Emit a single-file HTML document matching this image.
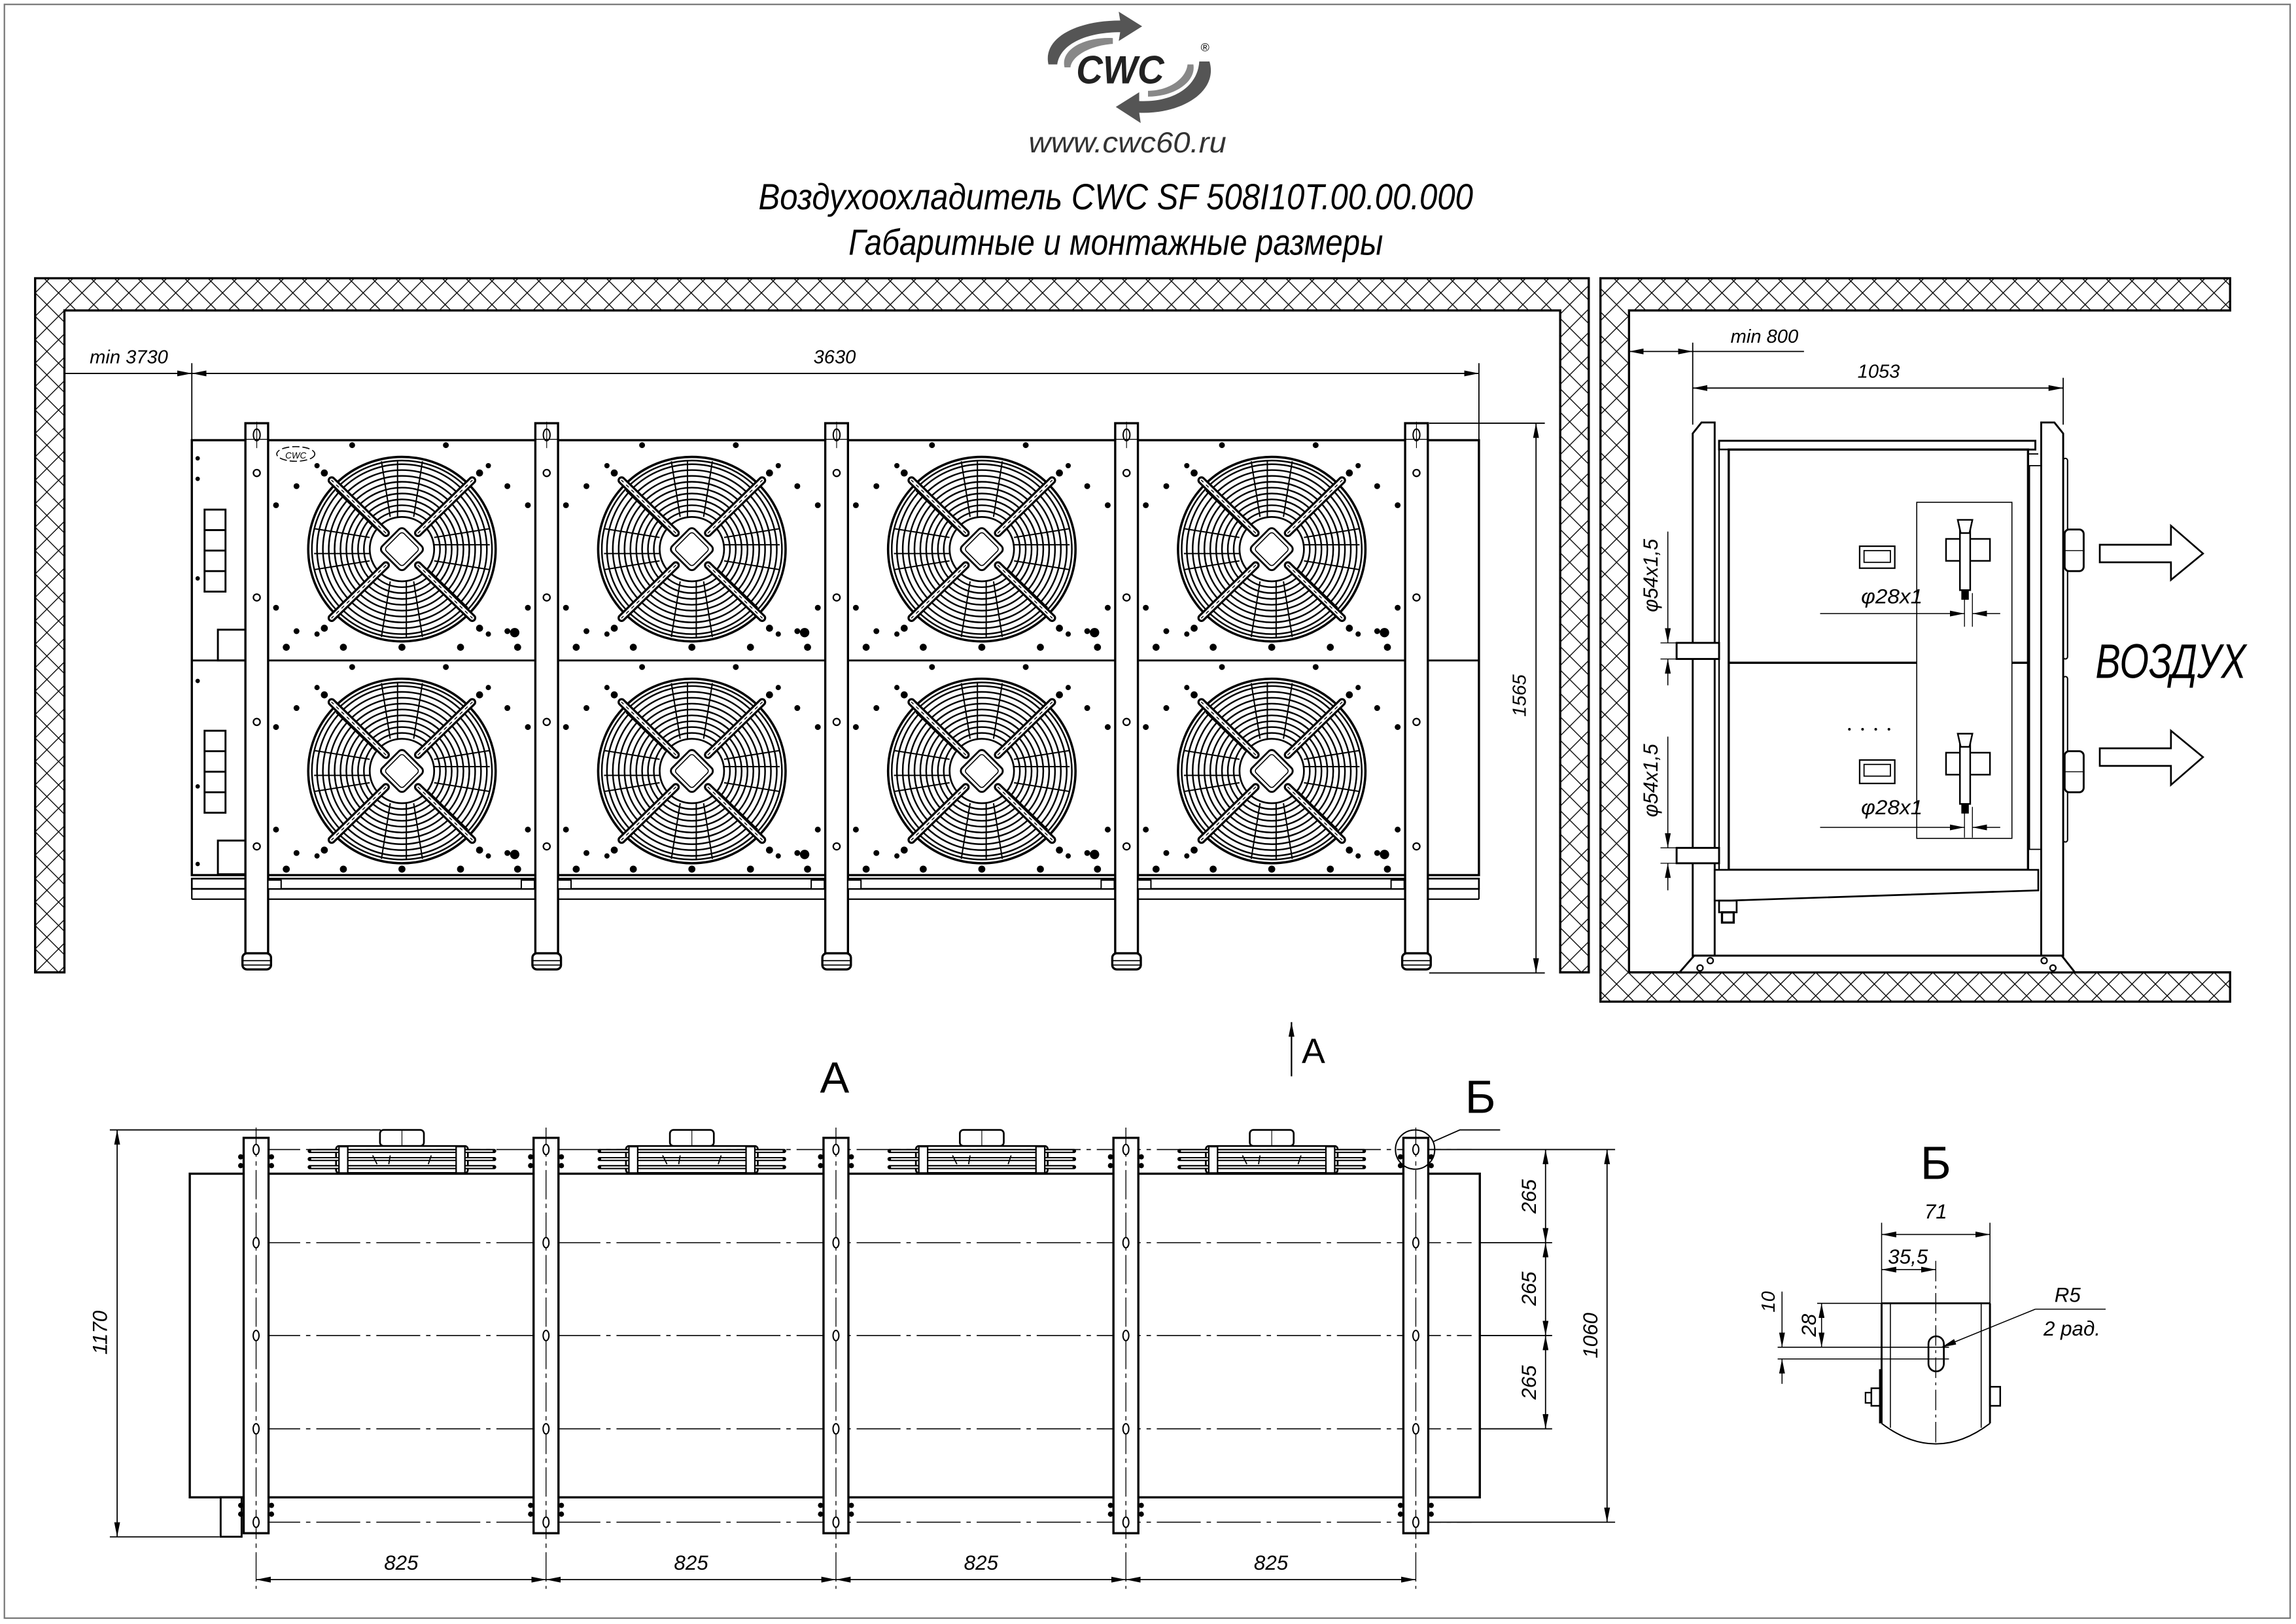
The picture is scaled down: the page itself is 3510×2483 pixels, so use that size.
<!DOCTYPE html>
<html><head><meta charset="utf-8">
<style>
html,body{margin:0;padding:0;background:#fff;}
svg{display:block;}
text{font-family:"Liberation Sans","DejaVu Sans",sans-serif;font-style:italic;fill:#000;}
.up{font-style:normal;}
</style></head>
<body>
<svg width="3510" height="2483" viewBox="0 0 1568 1109" preserveAspectRatio="none" xmlns="http://www.w3.org/2000/svg">
<defs>
  <pattern id="hatch" patternUnits="userSpaceOnUse" width="16" height="16">
    <path d="M0,0 L16,16 M16,0 L0,16 M-1,15 L1,17 M15,-1 L17,1" stroke="#000" stroke-width="0.6" fill="none"/>
  </pattern>
  <marker id="ar" viewBox="0 0 10 4" refX="10" refY="2" markerWidth="10" markerHeight="4" markerUnits="userSpaceOnUse" orient="auto-start-reverse">
    <path d="M0,0 L10,2 L0,4 z" fill="#000"/>
  </marker>
  <g id="fan">
    <g fill="none" stroke="#000">
      <ellipse rx="64" ry="63" stroke-width="1.6"/>
      <ellipse rx="61.5" ry="60.5" stroke-width="1.1"/>
      <circle r="58" stroke-width="1.1"/>
      <circle r="54" stroke-width="1.1"/>
      <circle r="50" stroke-width="1.1"/>
      <circle r="46" stroke-width="1.1"/>
      <circle r="42" stroke-width="1.1"/>
      <circle r="38" stroke-width="1.1"/>
      <circle r="34" stroke-width="1.1"/>
      <circle r="30" stroke-width="1.1"/>
      <circle r="26" stroke-width="1.1"/>
      <circle r="22" stroke-width="1.2"/>
      <g stroke-width="0.9">
        <path d="M-8,-22 L-14,-60 M8,-22 L14,-60 M-22,8 L-60,14 M-22,-8 L-60,-14 M22,8 L60,14 M22,-8 L60,-14 M-8,22 L-14,60 M8,22 L14,60"/>
        <path d="M-3,-22 L-3,-60 M3,22 L3,60 M-22,3 L-60,3 M22,-3 L60,-3 M-18,-14 L-45,-40 M18,14 L45,40"/>
      </g>
    </g>
    <g stroke-linecap="round">
      <path d="M-11,-11 L-48,-47 M11,-11 L48,-47 M-11,11 L-48,47 M11,11 L48,47" stroke="#000" stroke-width="5.5"/>
      <path d="M-11,-11 L-48,-47 M11,-11 L48,-47 M-11,11 L-48,47 M11,11 L48,47" stroke="#fff" stroke-width="2.6"/>
      <path d="M-11,-11 L-48,-47 M11,-11 L48,-47 M-11,11 L-48,47 M11,11 L48,47" stroke="#000" stroke-width="0.6" stroke-dasharray="2 3"/>
    </g>
    <rect x="-11" y="-11" width="22" height="22" rx="3" transform="rotate(45)" fill="#fff" stroke="#000" stroke-width="1.3"/>
    <rect x="-8.5" y="-8.5" width="17" height="17" rx="2" transform="rotate(45)" fill="none" stroke="#000" stroke-width="0.7"/>
    <g fill="#000">
      <circle cx="-34" cy="-71" r="2"/><circle cx="30" cy="-71" r="2"/>
      <circle cx="-72" cy="-43" r="2"/><circle cx="72" cy="-43" r="2"/>
      <circle cx="-86" cy="-30" r="2"/><circle cx="86" cy="-30" r="2"/>
      <circle cx="-86" cy="40" r="2"/><circle cx="86" cy="40" r="2"/>
      <circle cx="-72" cy="56" r="2"/><circle cx="72" cy="56" r="2"/>
      <circle cx="-79" cy="67" r="2.4"/><circle cx="-40" cy="67" r="2.4"/><circle cx="0" cy="67" r="2.4"/><circle cx="40" cy="67" r="2.4"/><circle cx="79" cy="67" r="2.4"/>
      <circle cx="-53" cy="-52" r="2.4"/><circle cx="53" cy="-52" r="2.4"/>
      <circle cx="-58" cy="-57" r="1.8"/><circle cx="59" cy="-57" r="1.8"/>
      <circle cx="-53" cy="54" r="2.4"/><circle cx="53" cy="54" r="2.4"/>
      <circle cx="-58" cy="58" r="1.8"/><circle cx="59" cy="58" r="1.8"/>
      <circle cx="77" cy="57" r="3.2"/>
    </g>
  </g>
  <g id="post">
    <rect x="0" y="289" width="15.5" height="362" fill="#fff" stroke="#000" stroke-width="1.5"/>
    <line x1="0" y1="300" x2="15.5" y2="300" stroke="#000" stroke-width="0.6"/>
    <ellipse cx="7.75" cy="297" rx="2.3" ry="4" fill="none" stroke="#000" stroke-width="0.9"/>
    <line x1="7.75" y1="288" x2="7.75" y2="306" stroke="#000" stroke-width="0.5"/>
    <g fill="#fff" stroke="#000" stroke-width="1"><circle cx="7.75" cy="323" r="2.3"/><circle cx="7.75" cy="408" r="2.3"/><circle cx="7.75" cy="493" r="2.3"/><circle cx="7.75" cy="578" r="2.3"/></g>
    <rect x="-2" y="651" width="19.5" height="11" rx="3" fill="#fff" stroke="#000" stroke-width="1.5"/>
    <line x1="-2" y1="656" x2="17.5" y2="656" stroke="#000" stroke-width="0.8"/>
    <line x1="-2" y1="659" x2="17.5" y2="659" stroke="#000" stroke-width="0.8"/>
  </g>
  <g id="tpost">
    <rect x="0" y="777" width="17" height="270" fill="#fff" stroke="#000" stroke-width="1.5"/>
    <line x1="8.5" y1="770" x2="8.5" y2="1085" stroke="#000" stroke-width="0.6" stroke-dasharray="20 3 3 3"/>
    <g fill="#fff" stroke="#000" stroke-width="0.9">
      <ellipse cx="8.5" cy="785" rx="2" ry="3.5"/><ellipse cx="8.5" cy="848.6" rx="2" ry="3.5"/><ellipse cx="8.5" cy="912" rx="2" ry="3.5"/><ellipse cx="8.5" cy="975.7" rx="2" ry="3.5"/><ellipse cx="8.5" cy="1039.5" rx="2" ry="3.5"/>
    </g>
    <g fill="#000"><circle cx="-2" cy="790" r="1.8"/><circle cx="-2" cy="796" r="1.8"/><circle cx="19" cy="790" r="1.8"/><circle cx="19" cy="796" r="1.8"/><circle cx="-2" cy="1028" r="1.8"/><circle cx="-2" cy="1034" r="1.8"/><circle cx="19" cy="1028" r="1.8"/><circle cx="19" cy="1034" r="1.8"/></g>
  </g>
  <g id="tfan">
    <rect x="-15" y="771.6" width="30" height="11" rx="2.5" fill="#fff" stroke="#000" stroke-width="1.2"/>
    <line x1="0" y1="771.6" x2="0" y2="782.6" stroke="#000" stroke-width="0.5"/>
    <g fill="none" stroke="#000">
      <rect x="-45" y="782.6" width="90" height="18.4" rx="2" stroke-width="1.2"/>
      <line x1="-63" y1="786" x2="63" y2="786" stroke-width="2.8" stroke-linecap="round"/>
      <line x1="-63" y1="791.5" x2="63" y2="791.5" stroke-width="2.8" stroke-linecap="round"/>
      <line x1="-63" y1="797" x2="63" y2="797" stroke-width="2.8" stroke-linecap="round"/>
    </g>
    <g fill="none" stroke="#fff"><line x1="-62" y1="786" x2="62" y2="786" stroke-width="1"/><line x1="-62" y1="791.5" x2="62" y2="791.5" stroke-width="1"/><line x1="-62" y1="797" x2="62" y2="797" stroke-width="1"/></g>
    <rect x="-43" y="783" width="6" height="18" fill="#fff" stroke="#000" stroke-width="1"/>
    <rect x="37" y="783" width="6" height="18" fill="#fff" stroke="#000" stroke-width="1"/>
    <path d="M-20,789 l3,6 M-8,789 l-1,6 M20,789 l-2,6" stroke="#000" stroke-width="0.8"/>
  </g>
</defs>

<rect width="1568" height="1109" fill="#fff"/>
<rect x="3" y="3" width="1561" height="1102" fill="none" stroke="#777" stroke-width="1"/>

<!-- Logo -->
<g fill="#555">
  <path d="M716,44 C712,26 735,14 765,14 L764,8 L780,18 L764,28 L765,22 C742,22 724,30 722,44 Z"/>
  <path d="M727,46 C724,33 742,25 760,26 L760,30 C745,31 732,38 731,46 Z" fill="#888"/>
  <path d="M826,42 C832,62 808,78 778,77 L779,84 L762,73 L778,63 L778,69 C800,70 818,60 819,42 Z"/>
  <path d="M815,44 C817,56 802,66 784,66 L784,62 C798,62 810,54 811,44 Z" fill="#888"/>
</g>
<text x="765" y="57" font-size="27" font-weight="bold" text-anchor="middle" fill="#222" style="fill:#222" textLength="60" lengthAdjust="spacingAndGlyphs">CWC</text>
<text x="820" y="35" font-size="8" class="up">®</text>
<text x="770" y="104" font-size="20" text-anchor="middle" fill="#333" style="fill:#333" textLength="135" lengthAdjust="spacingAndGlyphs">www.cwc60.ru</text>
<text x="762" y="143" font-size="25" text-anchor="middle" textLength="488" lengthAdjust="spacingAndGlyphs">Воздухоохладитель CWC SF 508I10T.00.00.000</text>
<text x="762" y="174" font-size="25" text-anchor="middle" textLength="365" lengthAdjust="spacingAndGlyphs">Габаритные и монтажные размеры</text>

<!-- Walls -->
<path d="M24,190 H1085 V664 H1065.5 V212 H44 V664 H24 Z" fill="url(#hatch)" stroke="#000" stroke-width="1.5"/>
<path d="M1093,190 H1523 V212 H1112.5 V664 H1523 V684 H1093 Z" fill="url(#hatch)" stroke="#000" stroke-width="1.5"/>

<!-- FRONT VIEW -->
<g stroke="#000" fill="none">
  <rect x="131" y="300.6" width="879" height="297" stroke-width="1.5" fill="#fff"/>
  <line x1="131" y1="451" x2="1010" y2="451" stroke-width="1.3"/>
  <rect x="131" y="600" width="879" height="7" stroke-width="1.2"/>
  <line x1="131" y1="614" x2="1010" y2="614" stroke-width="1"/>
  <line x1="131" y1="607" x2="131" y2="614" stroke-width="1"/>
  <line x1="1010" y1="607" x2="1010" y2="614" stroke-width="1"/>
  <g stroke-width="1.3">
    <rect x="139.7" y="348" width="14.3" height="56"/>
    <line x1="139.7" y1="362" x2="154" y2="362"/><line x1="139.7" y1="376" x2="154" y2="376"/><line x1="139.7" y1="390" x2="154" y2="390"/>
    <rect x="139.7" y="499" width="14.3" height="56"/>
    <line x1="139.7" y1="513" x2="154" y2="513"/><line x1="139.7" y1="527" x2="154" y2="527"/><line x1="139.7" y1="541" x2="154" y2="541"/>
    <rect x="148.8" y="430" width="18.8" height="21"/>
    <rect x="148.8" y="574" width="18.8" height="23"/>
  </g>
  <ellipse cx="202" cy="310" rx="13" ry="5" stroke-width="0.7" stroke-dasharray="5 2"/>
</g>
<text x="202" y="313" font-size="6" text-anchor="middle">CWC</text>
<g fill="#000"><circle cx="135" cy="313" r="1.5"/><circle cx="135" cy="327" r="1.5"/><circle cx="135" cy="395" r="1.5"/><circle cx="135" cy="465" r="1.5"/><circle cx="135" cy="537" r="1.5"/><circle cx="135" cy="590" r="1.5"/></g>

<use href="#fan" x="274.5" y="375"/>
<use href="#fan" x="472.5" y="375"/>
<use href="#fan" x="670.5" y="375"/>
<use href="#fan" x="868.5" y="375"/>
<use href="#fan" x="274.5" y="526.5"/>
<use href="#fan" x="472.5" y="526.5"/>
<use href="#fan" x="670.5" y="526.5"/>
<use href="#fan" x="868.5" y="526.5"/>

<use href="#post" x="167.6"/>
<use href="#post" x="365.6"/>
<use href="#post" x="563.6"/>
<use href="#post" x="761.6"/>
<use href="#post" x="959.6"/>
<g fill="#fff" stroke="#000" stroke-width="0.9">
  <rect x="183" y="601" width="9" height="6"/><rect x="356" y="601" width="9" height="6"/>
  <rect x="381" y="601" width="9" height="6"/><rect x="554" y="601" width="9" height="6"/>
  <rect x="579" y="601" width="9" height="6"/><rect x="752" y="601" width="9" height="6"/>
  <rect x="777" y="601" width="9" height="6"/><rect x="950" y="601" width="9" height="6"/>
</g>

<g stroke="#000" stroke-width="0.8" fill="none">
  <line x1="44" y1="255" x2="131" y2="255" marker-end="url(#ar)"/>
  <line x1="131" y1="255" x2="1010" y2="255" marker-start="url(#ar)" marker-end="url(#ar)"/>
  <line x1="131" y1="248" x2="131" y2="300"/>
  <line x1="1010" y1="248" x2="1010" y2="300"/>
  <line x1="976" y1="289" x2="1055" y2="289"/>
  <line x1="976" y1="664.4" x2="1055" y2="664.4"/>
  <line x1="1049" y1="289" x2="1049" y2="664.4" marker-start="url(#ar)" marker-end="url(#ar)"/>
</g>
<text x="88" y="248" font-size="13" text-anchor="middle">min 3730</text>
<text x="570" y="248" font-size="13" text-anchor="middle">3630</text>
<text transform="translate(1042,475) rotate(-90)" font-size="13" text-anchor="middle">1565</text>

<!-- SIDE VIEW -->
<g stroke="#000" fill="none">
  <path d="M1156,296 L1162,288.5 H1171 V652.6 H1156 Z" stroke-width="1.3" fill="#fff"/>
  <path d="M1394,288.5 H1403 L1409,296 V652.6 H1394 Z" stroke-width="1.3" fill="#fff"/>
  <path d="M1147,664 L1157,652.6 H1408 L1417,664 Z" stroke-width="1.3" fill="#fff"/>
  <circle cx="1168" cy="656" r="2" stroke-width="1"/><circle cx="1161" cy="661" r="2" stroke-width="1"/>
  <circle cx="1396" cy="656" r="2" stroke-width="1"/><circle cx="1402" cy="661" r="2" stroke-width="1"/>
  <rect x="1174" y="301" width="216" height="6" stroke-width="1.3" fill="#fff"/>
  <rect x="1174" y="307" width="211" height="287" stroke-width="1" fill="#fff"/>
  <rect x="1180.6" y="307" width="204.4" height="287" stroke-width="1.5"/>
  <line x1="1180.6" y1="452.6" x2="1385" y2="452.6" stroke-width="1.5"/>
  <path d="M1171,594 H1392 V608 L1181,615 H1171 Z" stroke-width="1.2" fill="#fff"/>
  <rect x="1174" y="615" width="12" height="8" stroke-width="1.2"/>
  <rect x="1176" y="623" width="8" height="7" stroke-width="1.5"/>
  <line x1="1385" y1="310" x2="1392" y2="310" stroke-width="0.8"/>
  <rect x="1386" y="318" width="8" height="262" stroke-width="0.8"/>
  <rect x="1409" y="313" width="3" height="137" rx="1.5" stroke-width="0.9"/>
  <rect x="1409" y="462" width="3" height="113" rx="1.5" stroke-width="0.9"/>
  <rect x="1410" y="361.6" width="13" height="28.4" rx="3" stroke-width="1.3" fill="#fff"/>
  <line x1="1410" y1="376" x2="1423" y2="376" stroke-width="0.6"/>
  <rect x="1410" y="513" width="13" height="28" rx="3" stroke-width="1.3" fill="#fff"/>
  <line x1="1410" y1="527" x2="1423" y2="527" stroke-width="0.6"/>
  <rect x="1145" y="439" width="29" height="11" stroke-width="1.3" fill="#fff"/>
  <rect x="1145" y="579" width="29" height="10.5" stroke-width="1.3" fill="#fff"/>
  <rect x="1309" y="343" width="65" height="229.5" stroke-width="0.7" fill="#fff"/>
  <rect x="1270" y="373" width="24" height="15" stroke-width="1"/>
  <rect x="1273" y="376" width="18" height="8" stroke-width="0.8"/>
  <rect x="1270" y="519" width="24" height="16" stroke-width="1"/>
  <rect x="1273" y="522" width="18" height="8" stroke-width="0.8"/>
  <g stroke-width="1.1">
    <rect x="1329" y="368" width="30" height="15"/>
    <rect x="1338.5" y="361" width="7" height="42" fill="#fff"/>
    <path d="M1337,355 H1347 L1345,364 H1339 Z" fill="#fff"/>
    <rect x="1340" y="403" width="4" height="6" fill="#000"/>
    <rect x="1329" y="514" width="30" height="15"/>
    <rect x="1338.5" y="507" width="7" height="42" fill="#fff"/>
    <path d="M1337,501 H1347 L1345,510 H1339 Z" fill="#fff"/>
    <rect x="1340" y="549" width="4" height="6" fill="#000"/>
  </g>
  <line x1="1341.6" y1="405" x2="1341.6" y2="428" stroke-width="0.6"/>
  <line x1="1347" y1="405" x2="1347" y2="428" stroke-width="0.6"/>
  <line x1="1341.6" y1="551" x2="1341.6" y2="572" stroke-width="0.6"/>
  <line x1="1347" y1="551" x2="1347" y2="572" stroke-width="0.6"/>
  <line x1="1243" y1="419" x2="1341.6" y2="419" stroke-width="0.7" marker-end="url(#ar)"/>
  <line x1="1366" y1="419" x2="1347" y2="419" stroke-width="0.7" marker-end="url(#ar)"/>
  <line x1="1243" y1="565" x2="1341.6" y2="565" stroke-width="0.7" marker-end="url(#ar)"/>
  <line x1="1366" y1="565" x2="1347" y2="565" stroke-width="0.7" marker-end="url(#ar)"/>
  <line x1="1139" y1="363" x2="1139" y2="439" stroke-width="0.7" marker-end="url(#ar)"/>
  <line x1="1139" y1="468" x2="1139" y2="450" stroke-width="0.7" marker-end="url(#ar)"/>
  <line x1="1134" y1="439" x2="1145" y2="439" stroke-width="0.6"/>
  <line x1="1134" y1="450" x2="1145" y2="450" stroke-width="0.6"/>
  <line x1="1139" y1="503" x2="1139" y2="579" stroke-width="0.7" marker-end="url(#ar)"/>
  <line x1="1139" y1="608" x2="1139" y2="589.5" stroke-width="0.7" marker-end="url(#ar)"/>
  <line x1="1134" y1="579" x2="1145" y2="579" stroke-width="0.6"/>
  <line x1="1134" y1="589.5" x2="1145" y2="589.5" stroke-width="0.6"/>
  <line x1="1112.5" y1="240" x2="1156" y2="240" stroke-width="0.8" marker-start="url(#ar)" marker-end="url(#ar)"/>
  <line x1="1156" y1="240" x2="1232" y2="240" stroke-width="0.8"/>
  <line x1="1156" y1="265" x2="1409" y2="265" stroke-width="0.8" marker-start="url(#ar)" marker-end="url(#ar)"/>
  <line x1="1156" y1="234" x2="1156" y2="290" stroke-width="0.8"/>
  <line x1="1409" y1="258" x2="1409" y2="290" stroke-width="0.8"/>
  <path d="M1434,372 H1482.6 V359 L1504.5,378 L1482.6,396 V384 H1434 Z" stroke-width="1.2" fill="#fff"/>
  <path d="M1434,511 H1482.6 V499 L1504.5,517 L1482.6,536 V523 H1434 Z" stroke-width="1.2" fill="#fff"/>
</g>
<g fill="#000"><circle cx="1263" cy="498" r="0.9"/><circle cx="1272" cy="498" r="0.9"/><circle cx="1281" cy="498" r="0.9"/><circle cx="1290" cy="498" r="0.9"/></g>
<text x="1205" y="234" font-size="13" text-anchor="middle">min 800</text>
<text x="1283" y="258" font-size="13" text-anchor="middle">1053</text>
<text x="1271" y="412" font-size="14" textLength="42" lengthAdjust="spacingAndGlyphs">φ28x1</text>
<text x="1271" y="556" font-size="14" textLength="42" lengthAdjust="spacingAndGlyphs">φ28x1</text>
<text transform="translate(1132,393) rotate(-90)" font-size="14" text-anchor="middle" textLength="50" lengthAdjust="spacingAndGlyphs">φ54x1,5</text>
<text transform="translate(1132,533) rotate(-90)" font-size="14" text-anchor="middle" textLength="50" lengthAdjust="spacingAndGlyphs">φ54x1,5</text>
<text x="1431" y="463" font-size="33" textLength="103" lengthAdjust="spacingAndGlyphs">ВОЗДУХ</text>

<!-- TOP VIEW -->
<g stroke="#000" fill="none">
  <rect x="129.6" y="801.5" width="881" height="221" stroke-width="1.5" fill="#fff"/>
  <rect x="150.7" y="1022.4" width="14.3" height="27" stroke-width="1.3"/>
  <g stroke-width="0.7" stroke-dasharray="30 4 3 4">
    <line x1="175" y1="785" x2="1005" y2="785"/>
    <line x1="175" y1="848.6" x2="1005" y2="848.6"/>
    <line x1="175" y1="912" x2="1005" y2="912"/>
    <line x1="175" y1="975.7" x2="1005" y2="975.7"/>
    <line x1="175" y1="1039.5" x2="1005" y2="1039.5"/>
  </g>
</g>
<use href="#tfan" x="274.5"/>
<use href="#tfan" x="472.5"/>
<use href="#tfan" x="670.5"/>
<use href="#tfan" x="868.5"/>
<use href="#tpost" x="166.4"/>
<use href="#tpost" x="364.4"/>
<use href="#tpost" x="562.4"/>
<use href="#tpost" x="760.4"/>
<use href="#tpost" x="958.4"/>
<g stroke="#000" stroke-width="0.8" fill="none">
  <line x1="75" y1="771.6" x2="260" y2="771.6"/>
  <line x1="75" y1="1049.5" x2="150" y2="1049.5"/>
  <line x1="80" y1="771.6" x2="80" y2="1049.5" marker-start="url(#ar)" marker-end="url(#ar)"/>
  <line x1="975" y1="785" x2="1103" y2="785"/>
  <line x1="1010" y1="848.6" x2="1060" y2="848.6"/>
  <line x1="1010" y1="912" x2="1060" y2="912"/>
  <line x1="1010" y1="975.7" x2="1060" y2="975.7"/>
  <line x1="975" y1="1039.5" x2="1103" y2="1039.5"/>
  <line x1="1055.5" y1="785" x2="1055.5" y2="848.6" marker-start="url(#ar)" marker-end="url(#ar)"/>
  <line x1="1055.5" y1="848.6" x2="1055.5" y2="912" marker-start="url(#ar)" marker-end="url(#ar)"/>
  <line x1="1055.5" y1="912" x2="1055.5" y2="975.7" marker-start="url(#ar)" marker-end="url(#ar)"/>
  <line x1="1097.5" y1="785" x2="1097.5" y2="1039.5" marker-start="url(#ar)" marker-end="url(#ar)"/>
  <line x1="174.9" y1="1078.7" x2="372.9" y2="1078.7" marker-start="url(#ar)" marker-end="url(#ar)"/>
  <line x1="372.9" y1="1078.7" x2="570.9" y2="1078.7" marker-start="url(#ar)" marker-end="url(#ar)"/>
  <line x1="570.9" y1="1078.7" x2="768.9" y2="1078.7" marker-start="url(#ar)" marker-end="url(#ar)"/>
  <line x1="768.9" y1="1078.7" x2="966.9" y2="1078.7" marker-start="url(#ar)" marker-end="url(#ar)"/>
  <circle cx="966.4" cy="785" r="13.4" stroke-width="0.9"/>
  <polyline points="979,779.5 997,771.6 1024.5,771.6" stroke-width="0.8"/>
  <line x1="882" y1="735" x2="882" y2="698" stroke-width="1" marker-end="url(#ar)"/>
</g>
<text transform="translate(73,910) rotate(-90)" font-size="14" text-anchor="middle">1170</text>
<text transform="translate(1091,912) rotate(-90)" font-size="14" text-anchor="middle">1060</text>
<text transform="translate(1049,817) rotate(-90)" font-size="14" text-anchor="middle">265</text>
<text transform="translate(1049,880) rotate(-90)" font-size="14" text-anchor="middle">265</text>
<text transform="translate(1049,944) rotate(-90)" font-size="14" text-anchor="middle">265</text>
<text x="274" y="1072" font-size="14" text-anchor="middle">825</text>
<text x="472" y="1072" font-size="14" text-anchor="middle">825</text>
<text x="670" y="1072" font-size="14" text-anchor="middle">825</text>
<text x="868" y="1072" font-size="14" text-anchor="middle">825</text>
<text x="570" y="746" font-size="30" text-anchor="middle" class="up">А</text>
<text x="897" y="726" font-size="24" text-anchor="middle" class="up">А</text>
<text x="1011" y="760" font-size="32" text-anchor="middle" class="up">Б</text>

<!-- DETAIL Б -->
<text x="1322" y="805" font-size="32" text-anchor="middle" class="up">Б</text>
<g stroke="#000" fill="none">
  <line x1="1285" y1="835" x2="1285" y2="895" stroke-width="0.7"/>
  <line x1="1359" y1="835" x2="1359" y2="895" stroke-width="0.7"/>
  <line x1="1285" y1="843" x2="1359" y2="843" stroke-width="0.7" marker-start="url(#ar)" marker-end="url(#ar)"/>
  <line x1="1322" y1="861" x2="1322" y2="988" stroke-width="0.6" stroke-dasharray="14 3 2 3"/>
  <line x1="1285" y1="867" x2="1322" y2="867" stroke-width="0.7" marker-start="url(#ar)" marker-end="url(#ar)"/>
  <line x1="1285" y1="890" x2="1359" y2="890" stroke-width="1.3"/>
  <line x1="1285" y1="890" x2="1285" y2="972" stroke-width="1.3"/>
  <line x1="1359" y1="890" x2="1359" y2="972" stroke-width="1.3"/>
  <line x1="1291" y1="890" x2="1291" y2="975" stroke-width="0.7"/>
  <line x1="1353" y1="890" x2="1353" y2="975" stroke-width="0.7"/>
  <path d="M1285,972 Q1322,1000 1359,972" stroke-width="0.9"/>
  <rect x="1317" y="912.5" width="10.5" height="24" rx="5.2" stroke-width="1.2"/>
  <line x1="1241" y1="890" x2="1287" y2="890" stroke-width="0.7"/>
  <line x1="1214" y1="920" x2="1331" y2="920" stroke-width="0.7"/>
  <line x1="1214" y1="928" x2="1331" y2="928" stroke-width="0.7"/>
  <line x1="1244" y1="890" x2="1244" y2="920" stroke-width="0.7" marker-start="url(#ar)" marker-end="url(#ar)"/>
  <line x1="1217" y1="882" x2="1217" y2="920" stroke-width="0.7" marker-end="url(#ar)"/>
  <line x1="1217" y1="945" x2="1217" y2="928" stroke-width="0.7" marker-end="url(#ar)"/>
  <line x1="1390" y1="894" x2="1326" y2="920" stroke-width="0.7" marker-end="url(#ar)"/>
  <line x1="1390" y1="894" x2="1438" y2="894" stroke-width="0.7"/>
  <rect x="1278" y="948" width="7" height="12" stroke-width="1.1"/>
  <rect x="1274" y="951" width="4" height="7" stroke-width="1"/>
  <rect x="1359" y="947" width="7" height="13" stroke-width="1.1"/>
  <line x1="1284" y1="935" x2="1284" y2="972" stroke-width="1.5"/>
</g>
<text x="1322" y="832" font-size="14" text-anchor="middle">71</text>
<text x="1303" y="863" font-size="14" text-anchor="middle">35,5</text>
<text transform="translate(1212,889) rotate(-90)" font-size="13" text-anchor="middle">10</text>
<text transform="translate(1240,905) rotate(-90)" font-size="14" text-anchor="middle">28</text>
<text x="1412" y="889" font-size="14" text-anchor="middle">R5</text>
<text x="1415" y="912" font-size="14" text-anchor="middle">2 рад.</text>
</svg>
</body></html>
